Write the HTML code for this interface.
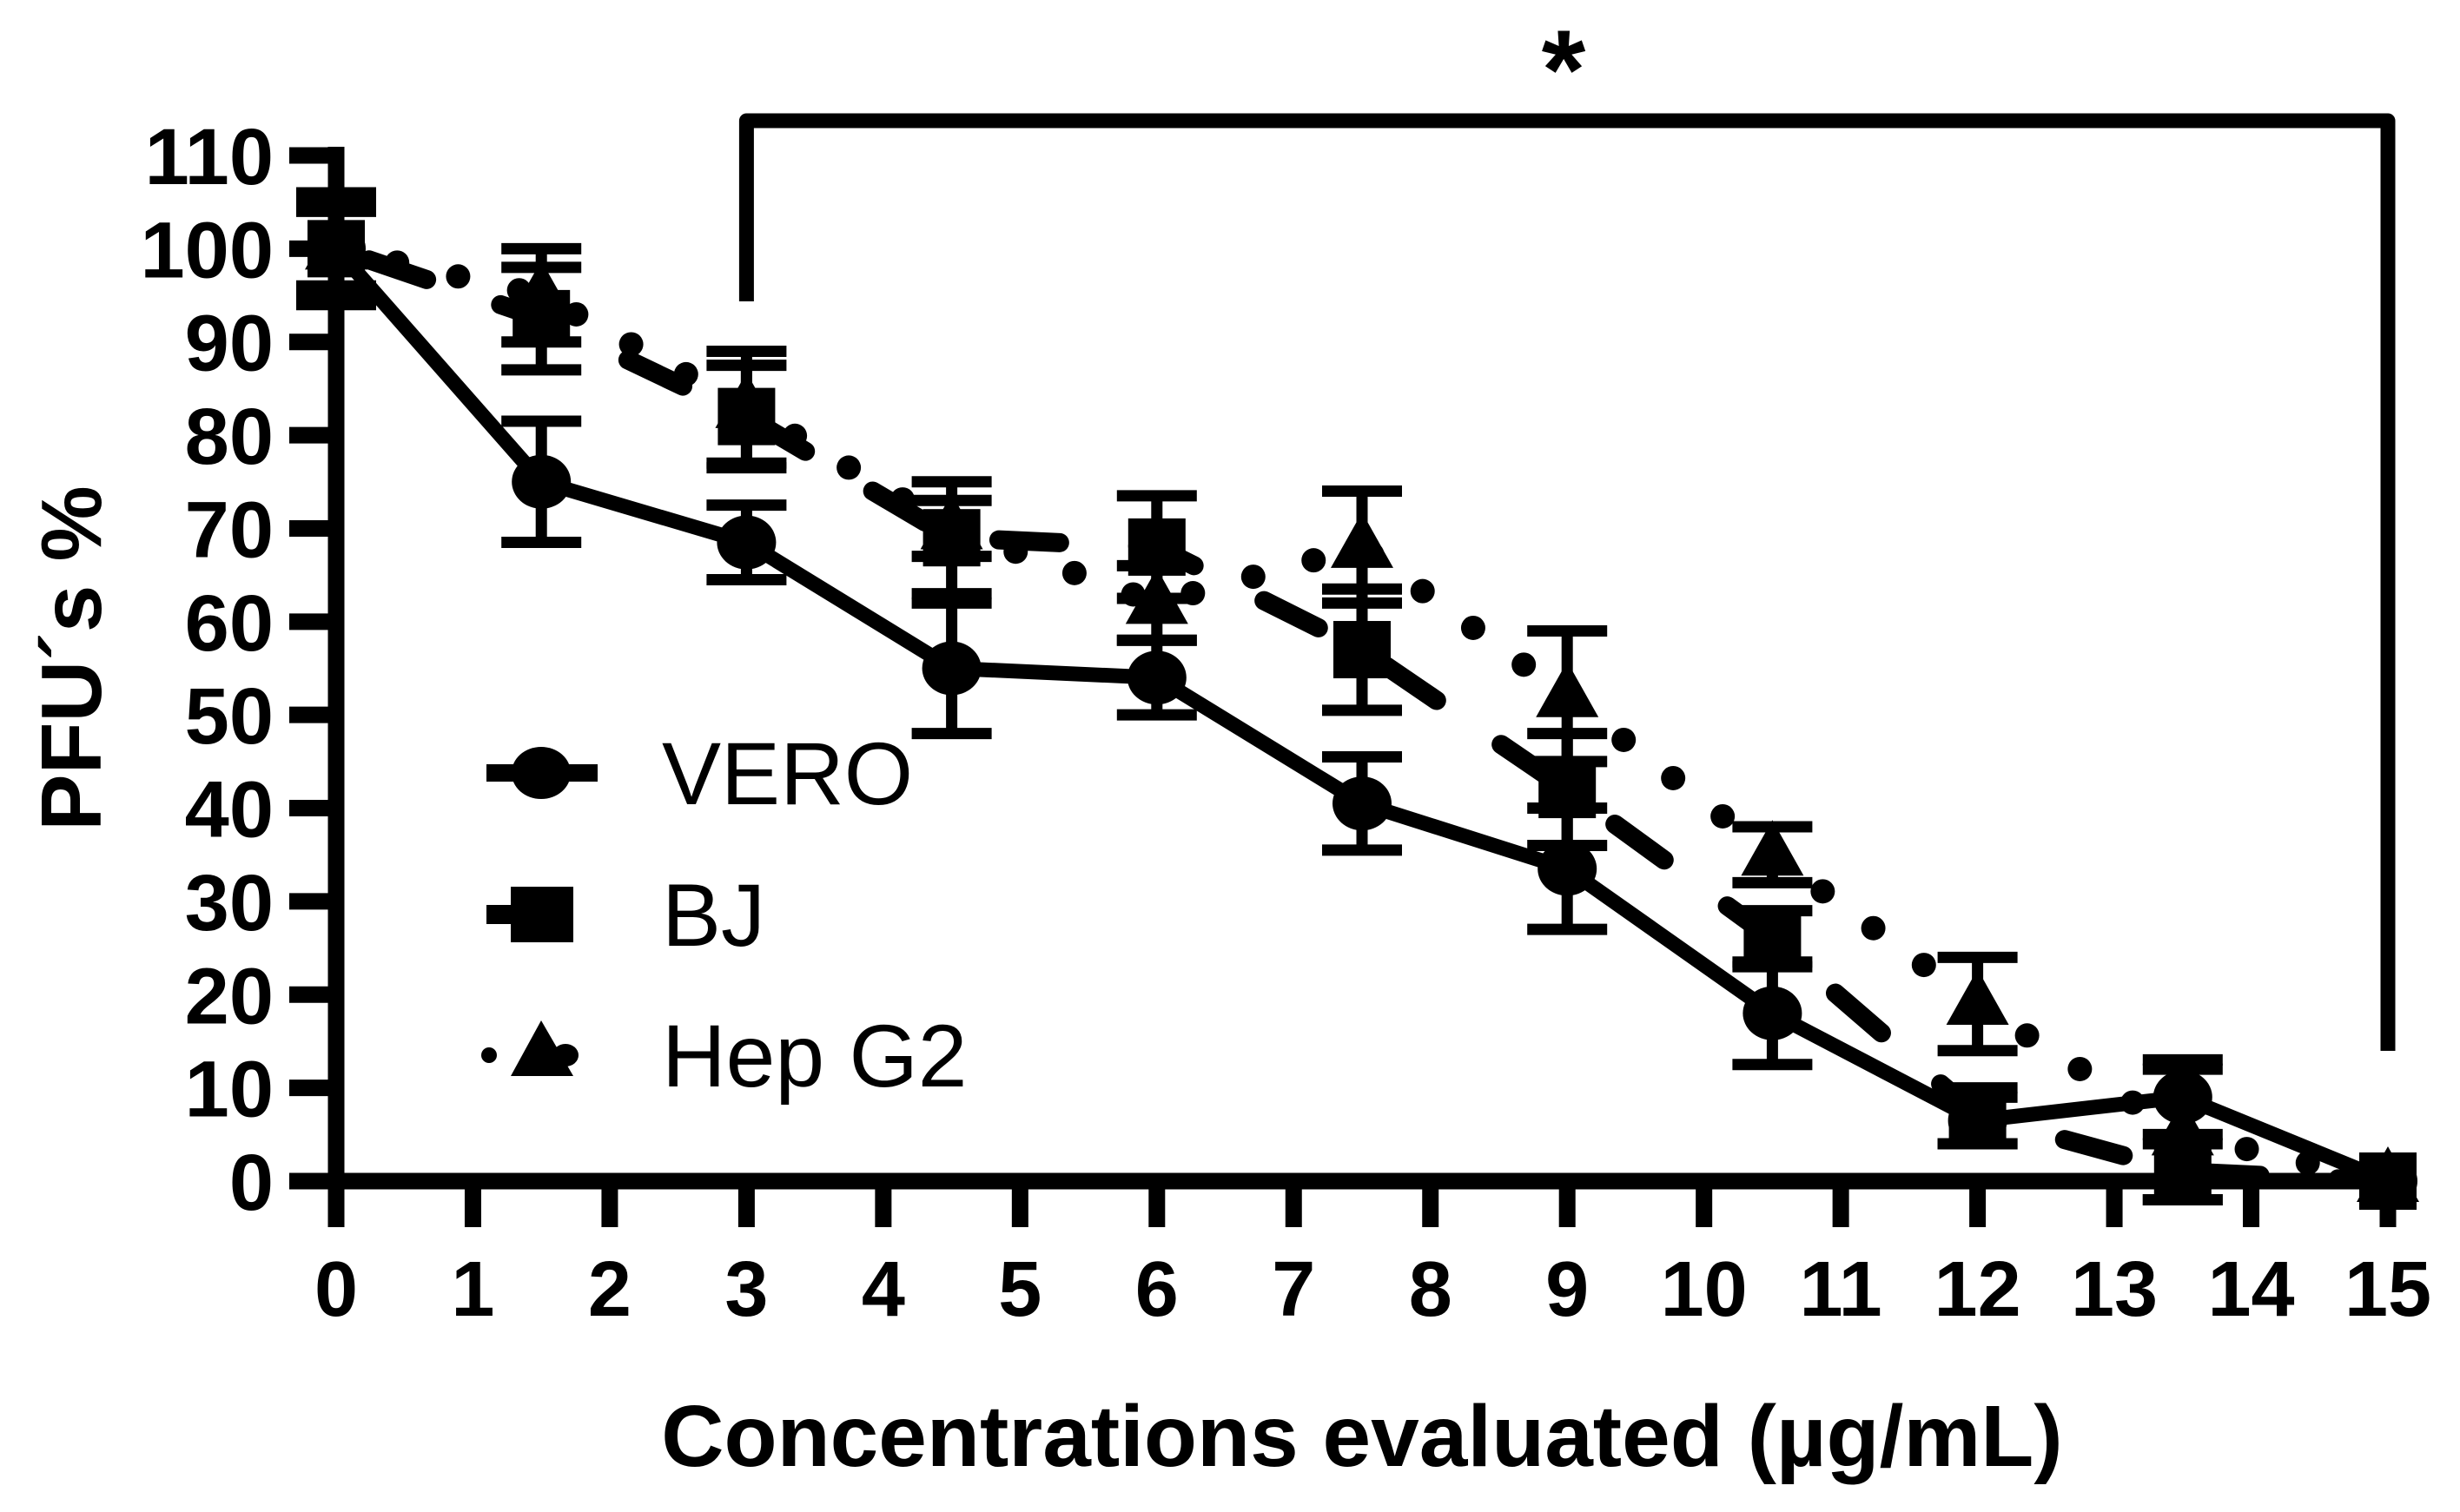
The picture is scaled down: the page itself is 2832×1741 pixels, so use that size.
<!DOCTYPE html>
<html><head><meta charset="utf-8"><style>
body{margin:0;background:#fff}
svg{display:block}
text{font-family:"Liberation Sans",Arial,sans-serif;fill:#000}
</style></head><body>
<svg id="chart" width="2832" height="1741" viewBox="0 0 2832 1741" xmlns="http://www.w3.org/2000/svg">
<g id="axes"></g>
<g id="series"></g>
<g id="annot"></g>
<g id="legend"></g>
</svg>
<script>
const xCats = [0, 1.5, 3, 4.5, 6, 7.5, 9, 10.5, 12, 13.5, 15];
const veroVals = [100, 75, 68.5, 55, 54, 40.5, 33.5, 18, 6.5, 9, 0];
const veroErr  = [6, 6.5, 4, 7, 4, 5, 6.5, 5.5, 2.5, 4, 0];
const bjVals   = [100, 92.5, 82, 69, 68, 57, 42, 26, 7, 1, 0];
const bjErr    = [5, 5.5, 5.5, 6, 5.5, 6.5, 6, 3, 3, 3, 0];
const hepVals  = [100, 95, 83, 70, 62, 68, 52, 35, 19, 5, 0];
const hepErr   = [4, 5, 6, 3, 4, 6, 7, 3, 5, 7, 0];
const xTicks = [0,1,2,3,4,5,6,7,8,9,10,11,12,13,14,15];
const yTicks = [0,10,20,30,40,50,60,70,80,90,100,110];

const NS = "http://www.w3.org/2000/svg";
const X0 = 387, X1 = 2749, Y0 = 1360, Y1 = 179;
const sx = v => X0 + (X1 - X0) * v / 15;
const sy = v => Y0 - (Y0 - Y1) * v / 110;
function mk(tag, attrs, parent){const e=document.createElementNS(NS,tag);for(const k in attrs)e.setAttribute(k,attrs[k]);parent.appendChild(e);return e;}

const axes=document.getElementById('axes');
let e;
e=mk('line',{x1:X0,y1:Y1-10,x2:X0,y2:1413,stroke:'#000','stroke-width':19},axes);


e=mk('line',{x1:333,y1:Y0,x2:X1+9,y2:Y0,stroke:'#000','stroke-width':19},axes);


yTicks.forEach(t=>{
  e=mk('line',{x1:333,y1:sy(t),x2:X0,y2:sy(t),stroke:'#000','stroke-width':19},axes);
  
  
  e=mk('text',{x:315,y:sy(t)+33,'text-anchor':'end','font-size':92,'font-weight':'bold'},axes);
  e.textContent=t;
  
  
});
xTicks.forEach(t=>{
  e=mk('line',{x1:sx(t),y1:Y0,x2:sx(t),y2:1413,stroke:'#000','stroke-width':19},axes);
  
  
  e=mk('text',{x:sx(t),y:1515,'text-anchor':'middle','font-size':90,'font-weight':'bold'},axes);
  e.textContent=t;
  
  
});
e=mk('text',{x:1568,y:1688,'text-anchor':'middle','font-size':100,'font-weight':'bold'},axes);
e.textContent='Concentrations evaluated (µg/mL)';


e=mk('text',{x:0,y:0,'text-anchor':'middle','font-size':98,'font-weight':'bold',transform:'translate(116,758) rotate(-90)'},axes);
e.textContent='PFU´s %';



const ser=document.getElementById('series');
function pts(vals){return xCats.map((x,i)=>sx(x)+','+sy(vals[i])).join(' ');}
e=mk('polyline',{points:pts(hepVals),fill:'none',stroke:'#000','stroke-width':28,'stroke-dasharray':'0 72','stroke-linecap':'round'},ser);


e=mk('polyline',{points:pts(bjVals),fill:'none',stroke:'#000','stroke-width':22,'stroke-dasharray':'70 90','stroke-linecap':'round','stroke-dashoffset':'-40'},ser);


e=mk('polyline',{points:pts(veroVals),fill:'none',stroke:'#000','stroke-width':17},ser);



function errbar(x,v,er){
  if(!er)return;
  const g=mk('g',{},ser);
  
  
  const cx=sx(x),a=sy(v+er),b=sy(v-er);
  mk('line',{x1:cx,y1:a,x2:cx,y2:b,stroke:'#000','stroke-width':13},g);
  mk('line',{x1:cx-46,y1:a,x2:cx+46,y2:a,stroke:'#000','stroke-width':13},g);
  mk('line',{x1:cx-46,y1:b,x2:cx+46,y2:b,stroke:'#000','stroke-width':13},g);
}
xCats.forEach((x,i)=>{errbar(x,veroVals[i],veroErr[i]);errbar(x,bjVals[i],bjErr[i]);errbar(x,hepVals[i],hepErr[i]);});

xCats.forEach((x,i)=>{
  const cx=sx(x);
  let y=sy(hepVals[i]);
  e=mk('polygon',{points:`${cx},${y-40} ${cx-36},${y+24} ${cx+36},${y+24}`,fill:'#000'},ser);
  
  
  y=sy(bjVals[i]);
  e=mk('rect',{x:cx-33,y:y-33,width:66,height:66,fill:'#000'},ser);
  
  
  y=sy(veroVals[i]);
  e=mk('ellipse',{cx:cx,cy:y,rx:34,ry:31,fill:'#000'},ser);
  
  
});

const an=document.getElementById('annot');
e=mk('polyline',{points:`${sx(3)},347 ${sx(3)},139 ${sx(15)},139 ${sx(15)},1210`,fill:'none',stroke:'#000','stroke-width':17,'stroke-linejoin':'round'},an);


e=mk('text',{x:1800,y:125,'text-anchor':'middle','font-size':130,'font-weight':'bold'},an);
e.textContent='*';



const lg=document.getElementById('legend');
const rows=[['VERO',890],['BJ',1053],['Hep G2',1215]];
rows.forEach((r,i)=>{
  const g=mk('g',{},lg);
  
  
  const y=r[1];
  if(i===0){mk('line',{x1:560,y1:y,x2:688,y2:y,stroke:'#000','stroke-width':20},g);mk('ellipse',{cx:623,cy:y,rx:34,ry:30,fill:'#000'},g);}
  if(i===1){mk('line',{x1:560,y1:y,x2:600,y2:y,stroke:'#000','stroke-width':22},g);mk('rect',{x:588,y:y-32,width:72,height:64,fill:'#000'},g);}
  if(i===2){mk('circle',{cx:563,cy:y,r:9,fill:'#000'},g);mk('ellipse',{cx:651,cy:y,rx:15,ry:13,fill:'#000'},g);mk('polygon',{points:`${623},${y-40} ${588},${y+24} ${660},${y+24}`,fill:'#000'},g);}
  const t=mk('text',{x:762,y:y+36,'font-size':102},g);
  t.textContent=r[0];
});
</script>
</body></html>
